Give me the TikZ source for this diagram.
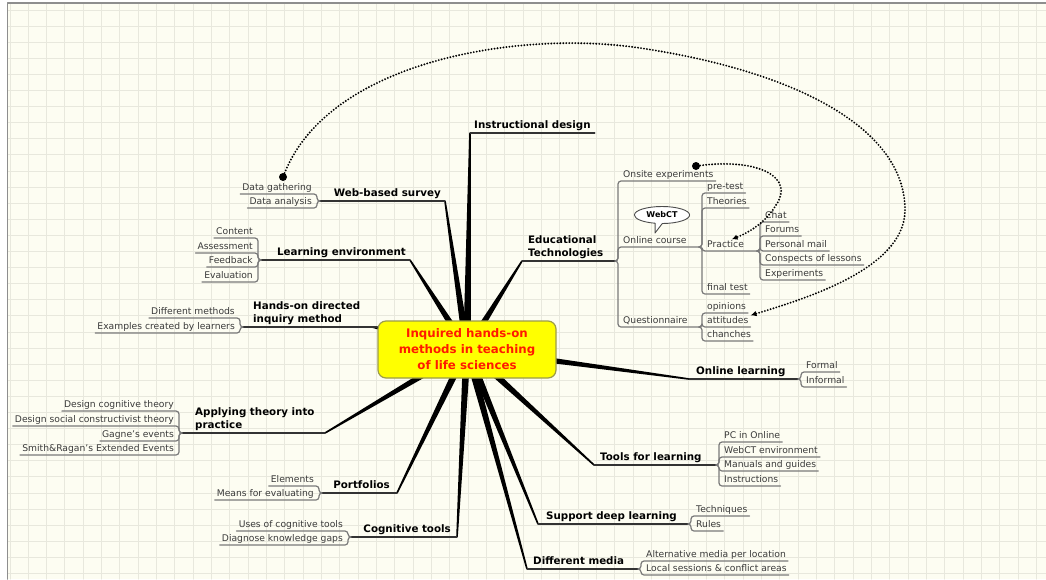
\documentclass[tikz,border=0pt]{standalone}
\usepackage{fontspec}
\setmainfont{DejaVu Sans}
\usepackage{xcolor}
\usetikzlibrary{arrows.meta,calc,shapes.callouts}
\definecolor{paperbg}{HTML}{FDFDF2}
\definecolor{gridgray}{HTML}{E8E8DD}
\definecolor{framegray}{HTML}{8E8E8E}
\definecolor{twiggray}{HTML}{7A7A7A}
\definecolor{leafgray}{HTML}{3A3A3A}
\definecolor{hubyellow}{HTML}{FFFF00}
\definecolor{hubborder}{HTML}{9C9C48}
\definecolor{hubred}{HTML}{FF1A00}

\begin{document}
\begin{tikzpicture}[
    x=1pt,y=-1pt,
    >=Latex,
    line cap=round,
    line join=round,
    gridline/.style={draw=gridgray, line width=1pt},
    spoke/.style={fill=black},
    topic/.style={font=\fontsize{10.3}{13.5}\selectfont\bfseries, text=black, inner xsep=4pt, inner ysep=1.5pt, text depth=2.5pt, align=left},
    leaf/.style={font=\fontsize{9.2}{11}\selectfont, text=leafgray, inner xsep=2pt, inner ysep=1pt, text height=7pt, text depth=2.2pt},
    central/.style={draw=hubborder, fill=hubyellow, rounded corners=8pt, line width=1.2pt, minimum width=178pt, minimum height=57pt, align=center, font=\fontsize{11.8}{16}\selectfont\bfseries, text=hubred},
    mainline/.style={draw=black!80, line width=1.3pt},
    twig/.style={draw=twiggray, line width=1.2pt, rounded corners=3pt},
    bubble/.style={ellipse callout, draw=black!70, fill=white, line width=0.9pt, font=\fontsize{8}{9}\selectfont\bfseries, inner xsep=4pt, inner ysep=1pt, minimum width=55pt, minimum height=17pt},
    linkdot/.style={circle, fill=black, inner sep=0pt, minimum size=8pt},
    dotlink/.style={-{Latex[length=6pt,width=5.5pt]}, line width=2.1pt, dash pattern=on 0pt off 3pt, line cap=round}
]
\useasboundingbox (0,0) rectangle (1046,579);

% Paper and grid
\fill[white] (0,0) rectangle (1046,579);
\fill[paperbg] (7.5,3) rectangle (1046,579);
\foreach \i in {0,...,56} \draw[gridline] ({10+18.333*\i},3) -- ({10+18.333*\i},579);
\foreach \j in {0,...,35} \draw[gridline] (7.5,{10+16.1*\j}) -- (1046,{10+16.1*\j});
\draw[framegray, line width=1.5pt] (7.5,579) -- (7.5,3) -- (1046,3);

% Hub, spoke tips and junctions
\coordinate (hub) at (467,349);
\coordinate (instrtip) at (470,133);
\coordinate (webtip) at (445,201);
\coordinate (learntip) at (410,260);
\coordinate (handstip) at (372,327);
\coordinate (applytip) at (325,433);
\coordinate (porttip) at (397,493);
\coordinate (cogtip) at (457,537);
\coordinate (mediatip) at (527,569);
\coordinate (deeptip) at (538,524);
\coordinate (toolstip) at (594,465);
\coordinate (onlinetip) at (689,379);
\coordinate (edtip) at (522,261);

\coordinate (webj) at (320,201);
\coordinate (learnj) at (261,260);
\coordinate (handsj) at (243,327);
\coordinate (applyj) at (182,433);
\coordinate (portj) at (322,493);
\coordinate (cogj) at (351,537);
\coordinate (mediaj) at (638,569);
\coordinate (deepj) at (688,524);
\coordinate (toolsj) at (716,465);
\coordinate (onlinej) at (798,379);
\coordinate (edj) at (615,261);
\coordinate (coursej) at (699,247);
\coordinate (practicej) at (757,251);
\coordinate (questj) at (699,327);

% Spokes
\foreach \t in {instrtip,webtip,learntip,handstip,applytip,porttip,cogtip,mediatip,deeptip,toolstip,onlinetip,edtip}
  \fill[spoke] ($(hub)!3.8pt!90:(\t)$) -- ($(\t)!0.8pt!-90:(hub)$) -- ($(\t)!0.8pt!90:(hub)$) -- ($(hub)!3.8pt!-90:(\t)$) -- cycle;

% Central topic
\node[central] (core) at (467,349.5) {Inquired hands-on\\methods in teaching\\of life sciences};

% Main topics
\node[topic, anchor=south west] (instr) at (instrtip) {Instructional design};
\node[topic, anchor=south east] (web) at (webtip) {Web-based survey};
\node[topic, anchor=south east] (learn) at (learntip) {Learning environment};
\node[topic, anchor=south west] (hands) at (249,327) {Hands-on directed\\inquiry method};
\node[topic, anchor=south west] (apply) at (191,433) {Applying theory into\\practice};
\node[topic, anchor=south east] (port) at (394,493) {Portfolios};
\node[topic, anchor=south east] (cog) at (455,537) {Cognitive tools};
\node[topic, anchor=south west] (media) at (529,569) {Different media};
\node[topic, anchor=south west] (deep) at (542,524) {Support deep learning};
\node[topic, anchor=south west] (tools) at (596,465) {Tools for learning};
\node[topic, anchor=south west] (online) at (692,379) {Online learning};
\node[topic, anchor=south west] (ed) at (524,261) {Educational\\Technologies};

% Left leaves
\node[leaf, anchor=south east] (gather) at (314,194) {Data gathering};
\node[leaf, anchor=south east] (analysis) at (314,208) {Data analysis};
\node[leaf, anchor=south east] (content) at (255,238) {Content};
\node[leaf, anchor=south east] (assess) at (255,253) {Assessment};
\node[leaf, anchor=south east] (feedback) at (255,267) {Feedback};
\node[leaf, anchor=south east] (evaluation) at (255,282) {Evaluation};
\node[leaf, anchor=south east] (diffmeth) at (237,318) {Different methods};
\node[leaf, anchor=south east] (examples) at (237,333) {Examples created by learners};
\node[leaf, anchor=south east] (desgcog) at (176,411) {Design cognitive theory};
\node[leaf, anchor=south east] (desgsoc) at (176,426) {Design social constructivist theory};
\node[leaf, anchor=south east] (gagne) at (176,441) {Gagne's events};
\node[leaf, anchor=south east] (smith) at (176,455) {Smith\&Ragan's Extended Events};
\node[leaf, anchor=south east] (elements) at (316,486) {Elements};
\node[leaf, anchor=south east] (means) at (316,500) {Means for evaluating};
\node[leaf, anchor=south east] (usescog) at (345,531) {Uses of cognitive tools};
\node[leaf, anchor=south east] (diagnose) at (345,545) {Diagnose knowledge gaps};

% Right leaves
\node[leaf, anchor=south west] (formal) at (804,372) {Formal};
\node[leaf, anchor=south west] (informal) at (804,387) {Informal};
\node[leaf, anchor=south west] (pconline) at (722,442) {PC in Online};
\node[leaf, anchor=south west] (webctenv) at (722,457) {WebCT environment};
\node[leaf, anchor=south west] (manuals) at (722,471) {Manuals and guides};
\node[leaf, anchor=south west] (instructions) at (722,486) {Instructions};
\node[leaf, anchor=south west] (techniques) at (694,516) {Techniques};
\node[leaf, anchor=south west] (rules) at (694,531) {Rules};
\node[leaf, anchor=south west] (altmedia) at (644,561) {Alternative media per location};
\node[leaf, anchor=south west] (localsess) at (644,575) {Local sessions \& conflict areas};
\node[leaf, anchor=south west] (onsite) at (621,181) {Onsite experiments};
\node[leaf, anchor=south west] (course) at (621,247) {Online course};
\node[leaf, anchor=south west] (quest) at (621,327) {Questionnaire};
\node[leaf, anchor=south west] (pretest) at (705,193) {pre-test};
\node[leaf, anchor=south west] (theories) at (705,208) {Theories};
\node[leaf, anchor=south west] (practice) at (705,251) {Practice};
\node[leaf, anchor=south west] (finaltest) at (705,294) {final test};
\node[leaf, anchor=south west] (chat) at (763,222) {Chat};
\node[leaf, anchor=south west] (forums) at (763,236) {Forums};
\node[leaf, anchor=south west] (pmail) at (763,251) {Personal mail};
\node[leaf, anchor=south west] (conspects) at (763,265) {Conspects of lessons};
\node[leaf, anchor=south west] (experiments) at (763,280) {Experiments};
\node[leaf, anchor=south west] (opinions) at (705,313) {opinions};
\node[leaf, anchor=south west] (attitudes) at (705,327) {attitudes};
\node[leaf, anchor=south west] (chanches) at (705,341) {chanches};

% Topic underlines
\draw[mainline] (instrtip) -- (instr.south east);
\draw[mainline] (webj) -- (webtip);
\draw[mainline] (learnj) -- (learntip);
\draw[mainline] (handsj) -- (handstip) -- (core.west |- handstip);
\draw[mainline] (applyj) -- (applytip);
\draw[mainline] (portj) -- (porttip);
\draw[mainline] (cogj) -- (cogtip);
\draw[mainline] (mediatip) -- (mediaj);
\draw[mainline] (deeptip) -- (deepj);
\draw[mainline] (toolstip) -- (toolsj);
\draw[mainline] (onlinetip) -- (onlinej);
\draw[mainline] (edtip) -- (edj);

% Brackets, left side
\foreach \c in {gather,analysis} \draw[twig] (webj) -- ++(-3,0) |- (\c.south west);
\foreach \c in {content,assess,feedback,evaluation} \draw[twig] (learnj) -- ++(-3,0) |- (\c.south west);
\foreach \c in {diffmeth,examples} \draw[twig] (handsj) -- ++(-3,0) |- (\c.south west);
\foreach \c in {desgcog,desgsoc,gagne,smith} \draw[twig] (applyj) -- ++(-3,0) |- (\c.south west);
\foreach \c in {elements,means} \draw[twig] (portj) -- ++(-3,0) |- (\c.south west);
\foreach \c in {usescog,diagnose} \draw[twig] (cogj) -- ++(-3,0) |- (\c.south west);

% Brackets, right side
\foreach \c in {formal,informal} \draw[twig] (onlinej) -- ++(3,0) |- (\c.south east);
\foreach \c in {pconline,webctenv,manuals,instructions} \draw[twig] (toolsj) -- ++(3,0) |- (\c.south east);
\foreach \c in {techniques,rules} \draw[twig] (deepj) -- ++(3,0) |- (\c.south east);
\foreach \c in {altmedia,localsess} \draw[twig] (mediaj) -- ++(3,0) |- (\c.south east);
\draw[twig] (edj) -- ++(3,0) |- (onsite.south east);
\draw[twig] (edj) -- ++(3,0) |- (coursej);
\draw[twig] (edj) -- ++(3,0) |- (questj);
\foreach \c in {pretest,theories,finaltest} \draw[twig] (coursej) -- ++(3,0) |- (\c.south east);
\draw[twig] (coursej) -- ++(3,0) |- (practicej);
\foreach \c in {chat,forums,pmail,conspects,experiments} \draw[twig] (practicej) -- ++(3,0) |- (\c.south east);
\foreach \c in {opinions,attitudes,chanches} \draw[twig] (questj) -- ++(3,0) |- (\c.south east);

% WebCT note
\node[bubble, callout absolute pointer={(655,233)}] (webct) at (662,215) {WebCT};

% Dotted relationships
\node[linkdot] (gatherdot) at (283,177) {};
\node[linkdot] (onsitedot) at (696,166) {};
\draw[dotlink] (gatherdot) .. controls (330,60) and (520,30) .. (640,48) .. controls (800,72) and (905,130) .. (905,210) .. controls (905,270) and (800,300) .. (attitudes.north east);
\draw[dotlink] (onsitedot) .. controls (760,158) and (795,178) .. (776,205) .. controls (766,222) and (750,232) .. ([xshift=6pt]practice.north);

\end{tikzpicture}
\end{document}
